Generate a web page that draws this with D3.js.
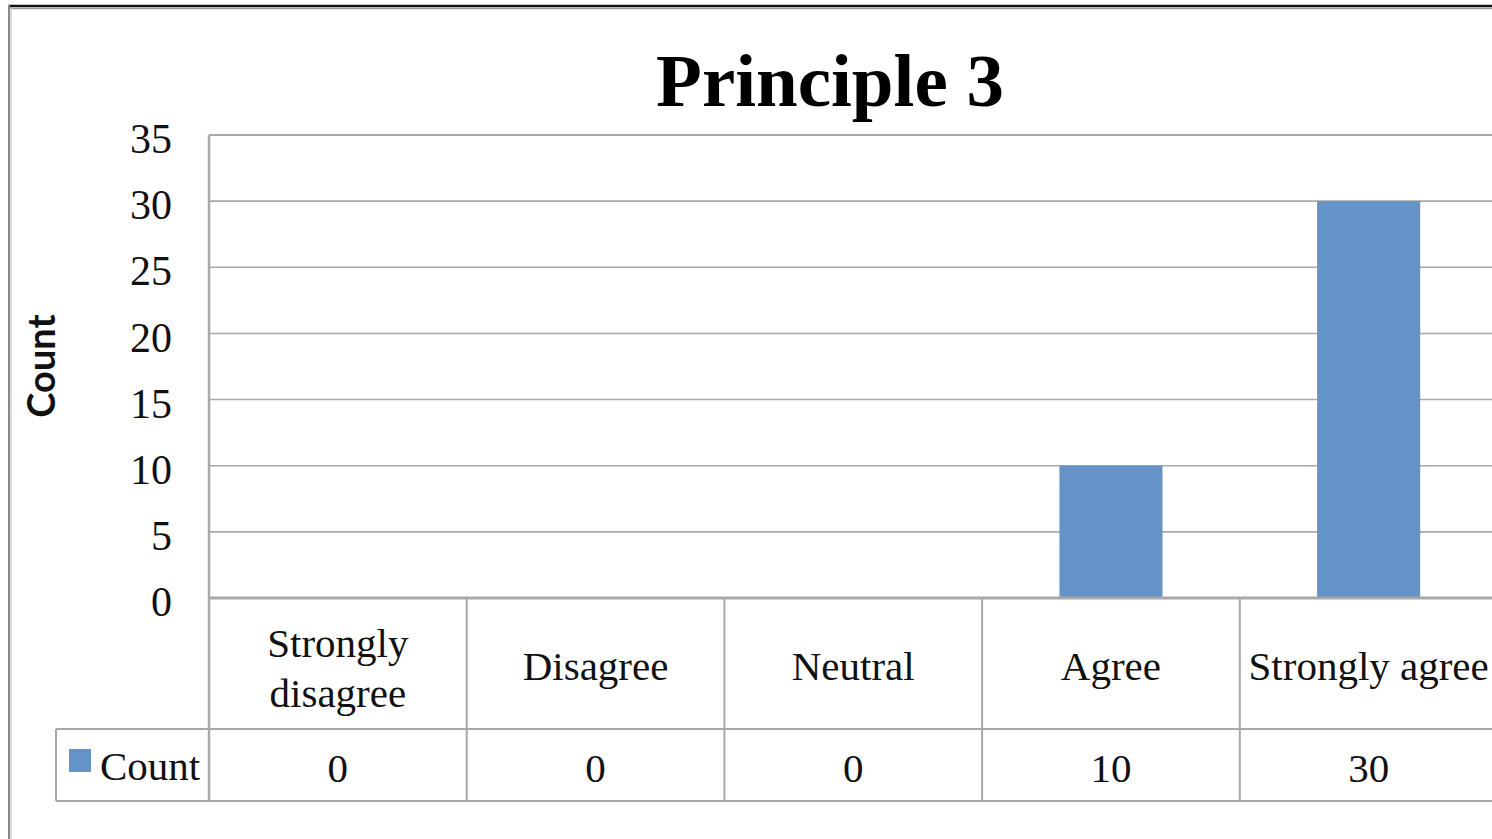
<!DOCTYPE html>
<html>
<head>
<meta charset="utf-8">
<script src="https://cdn.jsdelivr.net/npm/d3@7"></script>
<style>
  html, body { margin: 0; padding: 0; background: #fff; overflow: hidden; }
  svg { display: block; }
</style>
</head>
<body>
<svg id="chart" width="1492" height="839"></svg>
<script>
// ---- data ----
const chartTitle = "Principle 3";
const yAxisTitle = "Count";
const seriesName = "Count";
const categories = [["Strongly", "disagree"], ["Disagree"], ["Neutral"], ["Agree"], ["Strongly agree"]];
const values = [0, 0, 0, 10, 30];
const yTicks = [0, 5, 10, 15, 20, 25, 30, 35];

// ---- layout ----
const W = 1492, H = 839;
const plotLeft = 209, plotTop = 135, plotBottom = 598;
const step = 257.7;
const plotRight = plotLeft + step * values.length;
const rowMid = 729, rowBottom = 801, legendLeft = 56;
const barColor = "#6393c7";
const gridColor = "#a8a8a8";
const serif = "'Liberation Serif', 'DejaVu Serif', serif";

const svg = d3.select("#chart");

// outer chart border (top dark, left gray)
svg.append("rect").attr("x", 0).attr("y", 0).attr("width", W).attr("height", H).attr("fill", "#fff");
svg.append("line").attr("x1", 8).attr("x2", W).attr("y1", 6).attr("y2", 6).attr("stroke", "#111").attr("stroke-width", 2.5);
svg.append("line").attr("x1", 8).attr("x2", W).attr("y1", 8.5).attr("y2", 8.5).attr("stroke", "#9a9a9a").attr("stroke-width", 1.5);
svg.append("line").attr("x1", 9).attr("x2", 9).attr("y1", 5).attr("y2", H).attr("stroke", "#8a8a8a").attr("stroke-width", 2);
svg.append("line").attr("x1", 11).attr("x2", 11).attr("y1", 8).attr("y2", H).attr("stroke", "#cfcfcf").attr("stroke-width", 1.5);

const idx = values.map((d, i) => i);
const x = d3.scaleBand().domain(idx).range([plotLeft, plotRight]).paddingInner(0.6).paddingOuter(0.3);
const y = d3.scaleLinear().domain([0, 35]).range([plotBottom, plotTop]);

// gridlines
svg.append("g").selectAll("line").data(yTicks.filter(t => t > 0)).join("line")
  .attr("x1", plotLeft).attr("x2", plotRight)
  .attr("y1", d => y(d)).attr("y2", d => y(d))
  .attr("stroke", gridColor).attr("stroke-width", 1.6);

// bars
svg.append("g").selectAll("rect").data(values).join("rect")
  .attr("x", (d, i) => x(i)).attr("width", x.bandwidth())
  .attr("y", d => y(d)).attr("height", d => y(0) - y(d))
  .attr("fill", barColor);

// y axis labels
const yAxis = d3.axisLeft(y).tickValues(yTicks).tickSize(0).tickPadding(37).tickFormat(d3.format("d"));
const yg = svg.append("g").attr("transform", `translate(${plotLeft},0)`).call(yAxis);
yg.select(".domain").remove();
yg.selectAll("text").attr("font-family", serif).attr("font-size", 42).attr("fill", "#111").attr("dy", "0.42em");

// y axis title
svg.append("text").attr("transform", `translate(55,366) rotate(-90)`)
  .attr("text-anchor", "middle").attr("font-family", "Lato, 'Open Sans', sans-serif").attr("font-weight", 700)
  .attr("font-size", 38).attr("fill", "#111").text(yAxisTitle);

// title
svg.append("text").attr("x", 830).attr("y", 106).attr("text-anchor", "middle")
  .attr("font-family", serif).attr("font-weight", 700).attr("font-size", 75).attr("fill", "#000").text(chartTitle);

// data table lines
const tl = svg.append("g").attr("stroke", gridColor).attr("stroke-width", 2);
tl.append("line").attr("x1", plotLeft).attr("x2", plotRight).attr("y1", plotBottom).attr("y2", plotBottom).attr("stroke-width", 3);
tl.append("line").attr("x1", legendLeft).attr("x2", plotRight).attr("y1", rowMid).attr("y2", rowMid);
tl.append("line").attr("x1", legendLeft).attr("x2", plotRight).attr("y1", rowBottom).attr("y2", rowBottom);
tl.append("line").attr("x1", legendLeft).attr("x2", legendLeft).attr("y1", rowMid).attr("y2", rowBottom);
tl.append("line").attr("x1", plotLeft).attr("x2", plotLeft).attr("y1", plotTop).attr("y2", rowBottom).attr("stroke-width", 2.5);
tl.append("line").attr("x1", plotLeft).attr("x2", plotRight).attr("y1", plotTop).attr("y2", plotTop);
const boundary = i => plotLeft + i * x.step();
tl.selectAll("line.sep").data(idx.slice(1).concat([values.length])).join("line")
  .attr("class", "sep")
  .attr("x1", boundary).attr("x2", boundary)
  .attr("y1", plotBottom).attr("y2", rowBottom);

// category labels
const cx = i => x(i) + x.bandwidth() / 2;
const catG = svg.append("g").attr("font-family", serif).attr("font-size", 41).attr("fill", "#111").attr("text-anchor", "middle");
categories.forEach((lines, i) => {
  const t = catG.append("text").attr("x", cx(i));
  if (lines.length === 1) {
    t.attr("y", 680).text(lines[0]);
  } else {
    lines.forEach((s, k) => t.append("tspan").attr("x", cx(i)).attr("y", 657 + k * 50).text(s));
  }
});

// values row
svg.append("g").attr("font-family", serif).attr("font-size", 41).attr("fill", "#111").attr("text-anchor", "middle")
  .selectAll("text").data(values).join("text")
  .attr("x", (d, i) => cx(i)).attr("y", 782).text(d => d);

// legend key
svg.append("rect").attr("x", 69).attr("y", 749).attr("width", 22).attr("height", 23).attr("fill", barColor);
svg.append("text").attr("x", 100).attr("y", 780).attr("font-family", serif).attr("font-size", 41).attr("fill", "#111").text(seriesName);
</script>
</body>
</html>
